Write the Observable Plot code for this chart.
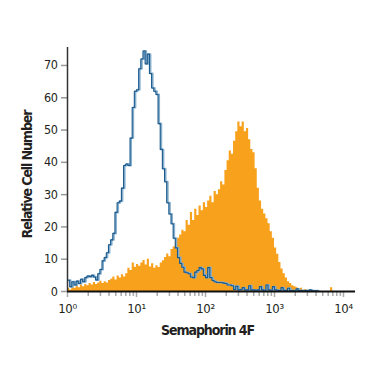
<!DOCTYPE html>
<html>
<head>
<meta charset="utf-8">
<script src="https://cdn.jsdelivr.net/npm/d3@7"></script>
<script src="https://cdn.jsdelivr.net/npm/@observablehq/plot@0.6"></script>
<style>
  html, body { margin: 0; padding: 0; background: #fff; }
  #chart { width: 375px; height: 375px; }
  #chart svg text { letter-spacing: -0.4px; }
  #chart svg .title text, #chart svg text.title { letter-spacing: -1.1px; }
</style>
</head>
<body>
<div id="chart"></div>
<script>
// Histogram channel width, in decades of fluorescence intensity
const channelWidth = 1 / 32;

// Orange filled histogram: Semaphorin 4F antibody staining
const stainedCounts = [
  1.0, 0.5, 1.5, 1.0, 1.8, 1.2, 2.0, 1.5, 2.2, 1.8,
  2.5, 2.0, 2.8, 2.2, 2.6, 3.2, 2.5, 3.0, 2.6, 3.4,
  3.8, 4.5, 3.6, 4.8, 4.2, 5.2, 4.5, 5.5, 7.2, 6.5,
  8.8, 7.5, 8.4, 7.8, 8.8, 9.6, 8.2, 10.0, 7.6, 8.6,
  7.2, 8.0, 7.4, 8.8, 9.5, 10.5, 11.6, 10.8, 13.0, 13.8,
  15.2, 16.5, 17.5, 19.0, 18.5, 22.0, 20.5, 24.5, 22.0, 25.5,
  23.5, 26.5, 25.0, 27.5, 26.0, 28.0, 29.5, 27.5, 31.0, 30.0,
  31.5, 34.0, 33.0, 37.5, 40.5, 43.5, 42.5, 46.5, 49.5, 52.5,
  51.0, 52.5, 49.5, 50.5, 47.0, 44.0, 43.0, 38.0, 32.0, 28.0,
  25.5, 24.0, 22.5, 21.0, 18.5, 16.5, 13.5, 11.5, 9.0, 7.0,
  5.5, 4.2, 3.0, 2.5, 1.8, 1.5, 1.2, 0.8, 1.0, 0.4,
  0.6, 0.3, 0.2, 0.4, 0.1, 0.2, 0, 0, 0, 0,
  0, 0, 1.2, 0
];

// Blue outline histogram: isotype control
const controlCounts = [
  3.5, 1.5, 3.0, 2.0, 3.2, 2.5, 3.8, 3.0, 4.3, 4.8,
  4.6, 5.0, 4.5, 3.6, 5.5, 6.8, 9.5, 10.5, 12.0, 14.5,
  16.0, 18.0, 24.5, 27.5, 28.0, 32.0, 39.0, 39.5, 39.0, 47.5,
  57.0, 62.0, 62.5, 69.0, 72.0, 74.5, 70.5, 73.5, 67.5, 63.0,
  62.0, 61.0, 52.0, 44.0, 38.0, 34.0, 27.5, 24.0, 21.0, 16.5,
  13.5, 10.5, 8.7, 7.5, 6.0, 5.8, 5.5, 4.5, 4.3, 6.0,
  6.5, 7.4, 7.0, 5.0, 4.3, 7.4, 4.3, 3.4, 3.0, 2.8,
  2.8, 2.8, 2.6, 2.5, 2.0, 2.0, 1.8, 0.6, 1.6, 0.5,
  0.6, 1.2, 0.5, 0.5, 1.8, 0.5, 0.5, 0.4, 0.5, 1.5,
  0.5, 0.4, 2.0, 0.5, 0.4, 1.5, 0.5, 0.4, 0.3, 1.2,
  0.4, 0.3, 1.0, 0.3, 0.3, 0.2, 0.8, 0.3, 0.3, 0.2,
  0.3, 0.2, 0.5, 0.2, 0.2, 0.2
];

const xMajorTicks = [1, 10, 100, 1000, 10000];
const xMajorLabels = ["10⁰", "10¹", "10²", "10³", "10⁴"];
const xMinorTicks = [2,3,4,5,6,7,8,9, 20,30,40,50,60,70,80,90,
  200,300,400,500,600,700,800,900, 2000,3000,4000,5000,6000,7000,8000,9000];
const yTicks = [0, 10, 20, 30, 40, 50, 60, 70];

const xTitle = "Semaphorin 4F";
const yTitle = "Relative Cell Number";

function steps(counts) {
  const rows = counts.map((v, i) => ({ x: 10 ** (i * channelWidth), y: v }));
  rows.push({ x: 10 ** (counts.length * channelWidth), y: counts[counts.length - 1] });
  return rows;
}
const stainedSteps = steps(stainedCounts);
const controlSteps = steps(controlCounts);

const FONT = "'Liberation Sans Narrow', 'DejaVu Sans Condensed', 'Roboto', sans-serif";
const ORANGE = "#f8a11c";
const BLUE = "#1b5a8c";
const BLUE_LIGHT = "#86aecd";

const chart = Plot.plot({
  width: 375,
  height: 375,
  marginLeft: 67,
  marginRight: 20,
  marginTop: 47,
  marginBottom: 84,
  style: { fontFamily: FONT, color: "#231f20", background: "#fff" },
  x: { type: "log", domain: [1, 10 ** (288 / 69)] },
  y: { domain: [0, 244 / 3.229] },
  marks: [
    Plot.areaY(stainedSteps, { x: "x", y: "y", curve: "step-after", fill: ORANGE }),
    Plot.lineY(controlSteps, { x: "x", y: "y", curve: "step-after", stroke: BLUE_LIGHT, strokeWidth: 2, dx: 1 }),
    Plot.lineY(controlSteps, { x: "x", y: "y", curve: "step-after", stroke: BLUE, strokeWidth: 1.1 }),
    Plot.axisX({ ticks: xMinorTicks, tickSize: 5, stroke: "#aaa", strokeWidth: 1.5, tickFormat: null, text: null, label: null }),
    Plot.axisX({ ticks: xMajorTicks, tickSize: 6, stroke: "#aaa", strokeWidth: 1.5,
      tickFormat: (d) => xMajorLabels[xMajorTicks.indexOf(d)], tickPadding: 6,
      fontSize: 13, fill: "#231f20", label: null }),
    Plot.axisY({ ticks: yTicks, tickSize: 6, stroke: "#999", strokeWidth: 1.5, tickPadding: 4,
      fontSize: 12.5, fill: "#231f20", label: null }),
    Plot.ruleY([0], { stroke: "#111", strokeWidth: 1.8 }),
    Plot.ruleX([1], { stroke: "#333", strokeWidth: 1.5 }),
    Plot.text([xTitle], { frameAnchor: "bottom", textAnchor: "middle", lineAnchor: "middle", dy: 39, dx: -4,
      fontSize: 14, fontWeight: "bold", fill: "#231f20", className: "title" }),
    Plot.text([yTitle], { frameAnchor: "left", textAnchor: "middle", lineAnchor: "middle", dx: -40, dy: 5, rotate: -90,
      fontSize: 14, fontWeight: "bold", fill: "#231f20", className: "title" })
  ]
});

document.getElementById("chart").appendChild(chart);
</script>
</body>
</html>
